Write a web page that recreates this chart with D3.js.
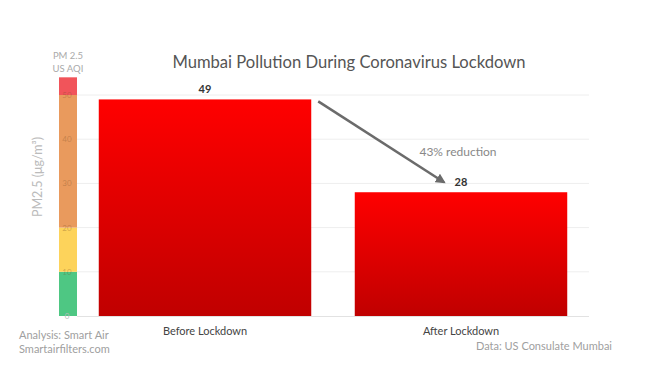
<!DOCTYPE html>
<html>
<head>
<meta charset="utf-8">
<script src="https://cdn.jsdelivr.net/npm/d3@7"></script>
<style>
  html, body { margin: 0; padding: 0; background: #fff; }
  svg { display: block; font-family: Lato, "Noto Sans", sans-serif; }
</style>
</head>
<body>
<svg id="chart" width="648" height="365"></svg>
<script>
const categories = ["Before Lockdown", "After Lockdown"];
const values = [49, 28];
const yTicks = [0, 10, 20, 30, 40, 50];
const bandStarts = [0, 10, 20, 50];
const bandEnds = [10, 20, 50, 54];
const bandColors = ["#4ec783", "#fdd35b", "#e99a5d", "#f1545a"];
const reductionLabel = "43% reduction";

const svg = d3.select("#chart");

const y = d3.scaleLinear().domain([0, 50]).range([316, 95]);
const x = d3.scaleBand().domain(categories).range([77, 589])
  .paddingInner(0.17).paddingOuter(0.085);

const defs = svg.append("defs");
const grad = defs.append("linearGradient").attr("id", "barGrad")
  .attr("x1", 0).attr("y1", 0).attr("x2", 0).attr("y2", 1);
grad.append("stop").attr("offset", "0%").attr("stop-color", "#ff0000");
grad.append("stop").attr("offset", "100%").attr("stop-color", "#c00000");

// gridlines
svg.append("g").selectAll("line").data(yTicks.filter(d => d > 0)).join("line")
  .attr("x1", 77).attr("x2", 589)
  .attr("y1", d => y(d)).attr("y2", d => y(d))
  .attr("stroke", "#eeeeee").attr("stroke-width", 1);

// AQI color bar
const cbX = 59, cbW = 18;
svg.append("g").selectAll("rect").data(bandStarts).join("rect")
  .attr("x", cbX).attr("width", cbW)
  .attr("y", (d, i) => y(bandEnds[i]))
  .attr("height", (d, i) => y(d) - y(bandEnds[i]))
  .attr("fill", (d, i) => bandColors[i]);

// color bar tick labels
svg.append("g").selectAll("text").data(yTicks).join("text")
  .attr("x", 67).attr("y", d => y(d) + 3)
  .attr("text-anchor", "middle")
  .attr("font-size", 8)
  .attr("fill", d => d === 0 ? "#bbb" : "rgba(120,80,40,0.35)")
  .text(d => d);

// bars
svg.append("g").selectAll("rect").data(values).join("rect")
  .attr("x", (d, i) => x(categories[i]))
  .attr("width", x.bandwidth())
  .attr("y", d => y(d))
  .attr("height", d => y(0) - y(d))
  .attr("fill", "url(#barGrad)");

// baseline
svg.append("line").attr("x1", 77).attr("x2", 589)
  .attr("y1", y(0) + 0.5).attr("y2", y(0) + 0.5)
  .attr("stroke", "#e2e2e2").attr("stroke-width", 1);

// value labels
svg.append("g").selectAll("text").data(values).join("text")
  .attr("x", (d, i) => x(categories[i]) + x.bandwidth() / 2)
  .attr("y", d => y(d) - 6)
  .attr("text-anchor", "middle")
  .attr("font-size", 11).attr("font-weight", "bold")
  .attr("fill", "#333")
  .text(d => d);

// category labels
svg.append("g").selectAll("text").data(categories).join("text")
  .attr("x", d => x(d) + x.bandwidth() / 2)
  .attr("y", 335)
  .attr("text-anchor", "middle")
  .attr("font-size", 11)
  .attr("fill", "#444")
  .text(d => d);

// arrow
defs.append("marker").attr("id", "arrowHead")
  .attr("viewBox", "0 0 10 10").attr("refX", 8).attr("refY", 5)
  .attr("markerWidth", 4).attr("markerHeight", 4).attr("orient", "auto")
  .append("path").attr("d", "M0,0 L10,5 L0,10 z").attr("fill", "#6b6b6b");
const x0 = x(categories[0]) + x.bandwidth() + 7;
const y0 = y(values[0]) + 2;
const x1 = x(categories[1]) + x.bandwidth() * 0.42;
const y1 = y(values[1]) - 10;
svg.append("line")
  .attr("x1", x0).attr("y1", y0).attr("x2", x1).attr("y2", y1)
  .attr("stroke", "#6b6b6b").attr("stroke-width", 2.5)
  .attr("marker-end", "url(#arrowHead)");

svg.append("text").attr("x", 458).attr("y", 156)
  .attr("text-anchor", "middle").attr("font-size", 12)
  .attr("fill", "#888").text(reductionLabel);

// title
svg.append("text").attr("x", 349).attr("y", 68)
  .attr("text-anchor", "middle").attr("font-size", 16.6)
  .attr("fill", "#555").text("Mumbai Pollution During Coronavirus Lockdown");

// color bar header
svg.append("text").attr("x", 68).attr("y", 59)
  .attr("text-anchor", "middle").attr("font-size", 9.5)
  .attr("fill", "#aaa").text("PM 2.5");
svg.append("text").attr("x", 68).attr("y", 72)
  .attr("text-anchor", "middle").attr("font-size", 9.5)
  .attr("fill", "#aaa").text("US AQI");

// y axis title
svg.append("text")
  .attr("transform", "translate(42,177) rotate(-90)")
  .attr("text-anchor", "middle").attr("font-size", 12.5)
  .attr("fill", "#bbb").text("PM2.5 (μg/m³)");

// footers
svg.append("text").attr("x", 19).attr("y", 339)
  .attr("font-size", 11).attr("fill", "#a0a0a0").text("Analysis: Smart Air");
svg.append("text").attr("x", 19).attr("y", 353)
  .attr("font-size", 11).attr("fill", "#a0a0a0").text("Smartairfilters.com");
svg.append("text").attr("x", 612).attr("y", 350)
  .attr("text-anchor", "end")
  .attr("font-size", 11).attr("fill", "#a0a0a0").text("Data: US Consulate Mumbai");
</script>
</body>
</html>
